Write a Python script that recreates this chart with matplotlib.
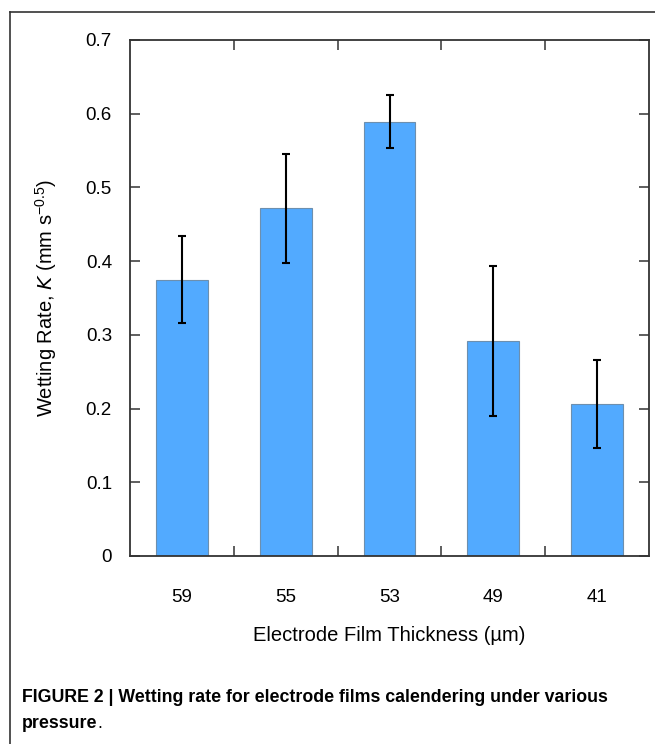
import numpy as np
import matplotlib
matplotlib.use("Agg")
import matplotlib.pyplot as plt
from matplotlib.lines import Line2D

# Datos
espesores = ["59", "55", "53", "49", "41"]
tasa_mojado = [0.375, 0.472, 0.589, 0.292, 0.206]
error_tasa = [0.059, 0.074, 0.036, 0.102, 0.060]
y_ticks = [0, 0.1, 0.2, 0.3, 0.4, 0.5, 0.6, 0.7]

plt.rcParams["font.family"] = ["Liberation Sans", "DejaVu Sans"]

fig = plt.figure(figsize=(6.55, 7.44), dpi=100)
ax = fig.add_axes([130 / 655, 1 - 556 / 744, 519 / 655, 516 / 744])

x = np.arange(len(espesores))
ax.bar(x, tasa_mojado, width=0.5, color="#52aaff", edgecolor="#6d8fae", linewidth=0.8, zorder=2)
ax.errorbar(x, tasa_mojado, yerr=error_tasa, fmt="none", ecolor="black",
            elinewidth=1.5, capsize=2.8, capthick=1.5, zorder=3)

ax.set_xlim(-0.5, len(espesores) - 0.5)
ax.set_ylim(0, 0.7)

# Etiquetas en el centro de cada barra, marcas entre categorías
ax.set_xticks(x)
ax.set_xticklabels(espesores)
ax.tick_params(axis="x", which="major", length=0, pad=24, labelsize=13.5)
ax.set_xticks(np.arange(0.5, len(espesores) - 0.5, 1.0), minor=True)
ax.tick_params(axis="x", which="minor", direction="in", length=7, width=1.1,
               color="#333333", top=True, bottom=True)

ax.set_yticks(y_ticks)
ax.set_yticklabels(["0" if v == 0 else f"{v:.1f}" for v in y_ticks])
ax.tick_params(axis="y", direction="in", length=7, width=1.1, color="#333333",
               left=True, right=True, labelsize=13.5, pad=13)

for s in ax.spines.values():
    s.set_color("#333333")
    s.set_linewidth(1.3)

ax.set_xlabel("Electrode Film Thickness (µm)", fontsize=14.5, labelpad=14)
ax.set_ylabel(r"Wetting Rate, $\mathit{K}$ (mm s$^{\mathregular{-0.5}}$)", fontsize=14.5, labelpad=19)

# Marco exterior (solo arriba e izquierda)
fig.add_artist(Line2D([10 / 655, 10 / 655], [0, 1 - 12 / 744], transform=fig.transFigure,
                      color="#333333", linewidth=1.2))
fig.add_artist(Line2D([10 / 655, 1], [1 - 12 / 744, 1 - 12 / 744], transform=fig.transFigure,
                      color="#333333", linewidth=1.2))

fig.text(22 / 655, 1 - 697 / 744,
         "FIGURE 2 | Wetting rate for electrode films calendering under various",
         fontsize=12.8, fontweight="bold", va="center", ha="left")
t_pres = fig.text(22 / 655, 1 - 724 / 744, "pressure", fontsize=12.8, fontweight="bold",
                  va="center", ha="left")
ax.annotate(".", xy=(1, 0), xycoords=t_pres, xytext=(0, 0), textcoords="offset points",
            fontsize=12.8, va="bottom", ha="left", annotation_clip=False)

fig.savefig("out.png", dpi=100)
